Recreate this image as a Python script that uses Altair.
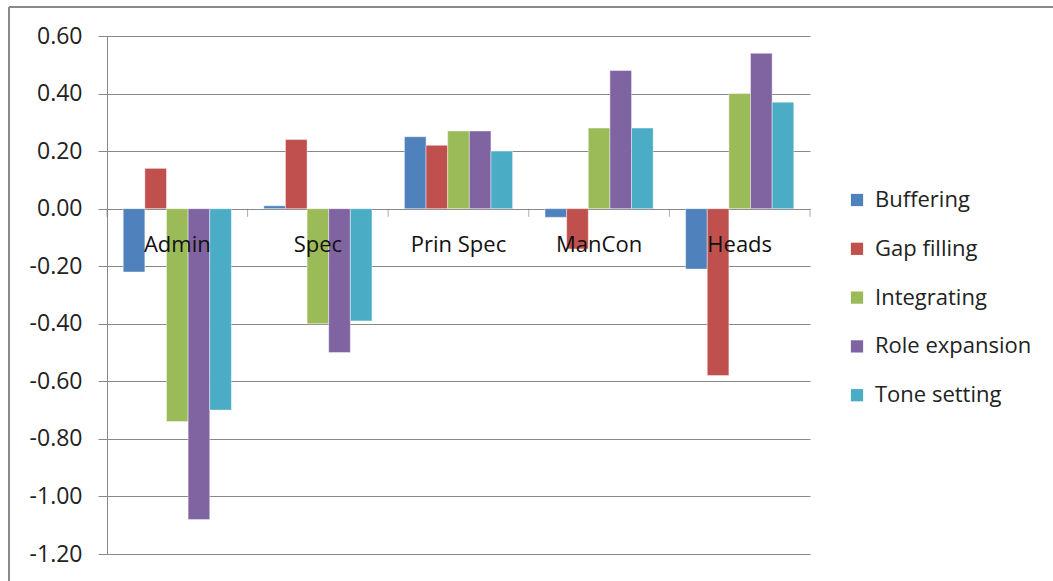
import altair as alt
import pandas as pd

categories = ["Admin", "Spec", "Prin Spec", "ManCon", "Heads"]
series = ["Buffering", "Gap filling", "Integrating", "Role expansion", "Tone setting"]
buffering = [-0.22, 0.01, 0.25, -0.03, -0.21]
gap_filling = [0.14, 0.24, 0.22, -0.14, -0.58]
integrating = [-0.74, -0.40, 0.27, 0.28, 0.40]
role_expansion = [-1.08, -0.50, 0.27, 0.48, 0.54]
tone_setting = [-0.70, -0.39, 0.20, 0.28, 0.37]
y_ticks = [-1.2, -1.0, -0.8, -0.6, -0.4, -0.2, 0.0, 0.2, 0.4, 0.6]
colors = ["#4F81BD", "#C0504D", "#9BBB59", "#8064A2", "#4BACC6"]

values = [buffering, gap_filling, integrating, role_expansion, tone_setting]
rows = []
for s, vals in zip(series, values):
    for c, v in zip(categories, vals):
        rows.append({"cat": c, "series": s, "value": v})
df = pd.DataFrame(rows)
cat_df = pd.DataFrame({"cat": categories})

FONT = "Open Sans"
GREY = "#888888"

xscale = alt.Scale(domain=categories, paddingInner=0, paddingOuter=0)

bars = alt.Chart(df).mark_bar(stroke="white", strokeWidth=0.6, strokeOpacity=0.7).encode(
    x=alt.X("cat:N", scale=xscale, axis=None, sort=categories),
    xOffset=alt.XOffset("series:N", sort=series,
                        scale=alt.Scale(paddingOuter=0.75, paddingInner=0)),
    y=alt.Y("value:Q", scale=alt.Scale(domain=[-1.2, 0.6], nice=False, zero=False),
            axis=alt.Axis(values=y_ticks, title=None, grid=True,
                          labelExpr="(datum.value < -0.001 ? '-' : '') + format(abs(datum.value), '.2f')",
                          gridColor=GREY, gridWidth=1, domainColor=GREY, tickColor=GREY,
                          tickSize=9, labelPadding=16, labelFont=FONT, labelFontSize=23,
                          labelColor="#222222", domainWidth=1)),
    color=alt.Color("series:N", sort=series,
                    scale=alt.Scale(domain=series, range=colors),
                    legend=alt.Legend(title=None, orient="none", legendX=739, legendY=153,
                                      symbolType="square", symbolSize=150, symbolStrokeWidth=0,
                                      labelFont=FONT, labelFontSize=22, labelColor="#222222",
                                      labelOffset=7, rowPadding=26.8, padding=0,
                                      labelLimit=300)),
)

labels = alt.Chart(cat_df).mark_text(font=FONT, fontSize=22, color="#111111",
                                     baseline="alphabetic", dy=43).encode(
    x=alt.X("cat:N", scale=xscale, sort=categories),
    y=alt.datum(0),
    text="cat:N",
)

ticks_start = alt.Chart(cat_df).mark_tick(orient="vertical", size=8, yOffset=4,
                                          thickness=1, color=GREY).encode(
    x=alt.X("cat:N", scale=xscale, sort=categories, bandPosition=0),
    y=alt.datum(0),
)
ticks_end = alt.Chart(cat_df.tail(1)).mark_tick(orient="vertical", size=8, yOffset=4,
                                                thickness=1, color=GREY).encode(
    x=alt.X("cat:N", scale=xscale, sort=categories, bandPosition=1),
    y=alt.datum(0),
)

frame_top = alt.Chart(cat_df.head(1)).mark_rule(color="#8a8a8a", strokeWidth=2).encode(
    x=alt.value(-98), x2=alt.value(946), y=alt.value(-29))
frame_left = alt.Chart(cat_df.head(1)).mark_rule(color="#8a8a8a", strokeWidth=2).encode(
    x=alt.value(-98), y=alt.value(-29), y2=alt.value(545))

chart = alt.layer(bars, ticks_start, ticks_end, labels, frame_top, frame_left).properties(
    width=703, height=518,
    autosize=alt.AutoSizeParams(type="none"),
    padding={"left": 107, "top": 36, "right": 243, "bottom": 27},
    background="white",
).configure_view(stroke=None)

chart.save("out.html", embed_options={"renderer": "svg", "actions": False})
